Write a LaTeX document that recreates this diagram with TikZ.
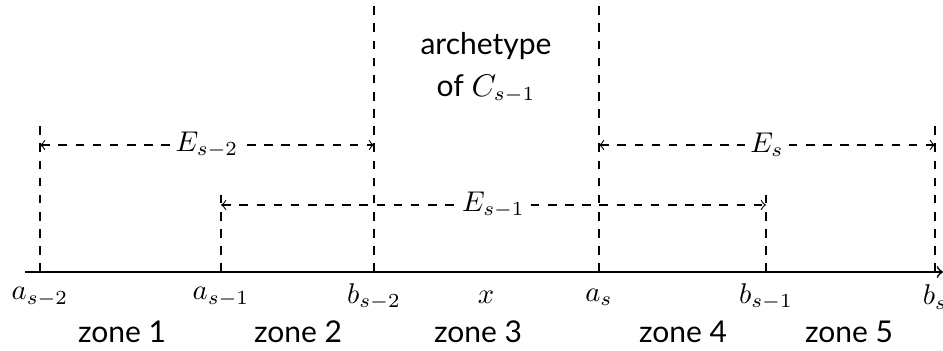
\documentclass[tikz,border=0pt]{standalone}
\usepackage{fontspec}
\setmainfont{Lato}
\tikzset{
  guide/.style={dashed,thin},
  span/.style={dashed,thin,<->},
  spanlabel/.style={fill=white,inner sep=2pt},
  zonelabel/.style={inner sep=0pt},
}
\begin{document}
\begin{tikzpicture}[x=.35pt,y=-.35pt]
\path[use as bounding box] (0,0) rectangle (943,351);
% axis
\coordinate (start) at (25,272);
\coordinate (end) at (943,272);
\draw[semithick,->] (start) -- (end);
% end points on the axis
\coordinate (as2) at (40,272);
\coordinate (as1) at (221,272);
\coordinate (bs2) at (374,272);
\coordinate (as) at (599,272);
\coordinate (bs1) at (766,272);
\coordinate (bs) at (935,272);
% tops of the guides
\coordinate (as2top) at (40,122);
\coordinate (as1top) at (221,187);
\coordinate (bs2top) at (374,0);
\coordinate (astop) at (599,0);
\coordinate (bs1top) at (766,187);
\coordinate (bstop) at (935,122);
\draw[guide] (as2) -- (as2top);
\draw[guide] (as1) -- (as1top);
\draw[guide] (bs2) -- (bs2top);
\draw[guide] (as) -- (astop);
\draw[guide] (bs1) -- (bs1top);
\draw[guide] (bs) -- (bstop);
% spans
\coordinate (e2l) at (40,145);
\coordinate (e2r) at (374,145);
\coordinate (e1l) at (221,205);
\coordinate (e1r) at (766,205);
\coordinate (e0l) at (599,145);
\coordinate (e0r) at (935,145);
\draw[span] (e2l) -- node[spanlabel] (E2) {$E_{s-2}$} (e2r);
\draw[span] (e1l) -- node[spanlabel] (E1) {$E_{s-1}$} (e1r);
\draw[span] (e0l) -- node[spanlabel] (E0) {$E_{s}$} (e0r);
% archetype
\node[align=center,font=\fontsize{10.5}{14.5}\selectfont] (arch) at (486,68) {archetype\\of $C_{s-1}$};
% points
\node (las2) at (40,297) {$a_{s-2}$};
\node (las1) at (221,297) {$a_{s-1}$};
\node (lbs2) at (374,297) {$b_{s-2}$};
\node (lx) at (486,297) {$x$};
\node (las) at (599,297) {$a_{s}$};
\node (lbs1) at (766,297) {$b_{s-1}$};
\node (lbs) at (935,297) {$b_{s}$};
% zones
\node[zonelabel,font=\fontsize{10.5}{12}\selectfont] (z1) at (122,332) {zone 1};
\node[zonelabel,font=\fontsize{10.5}{12}\selectfont] (z2) at (298,332) {zone 2};
\node[zonelabel,font=\fontsize{10.5}{12}\selectfont] (z3) at (478,332) {zone 3};
\node[zonelabel,font=\fontsize{10.5}{12}\selectfont] (z4) at (683,332) {zone 4};
\node[zonelabel,font=\fontsize{10.5}{12}\selectfont] (z5) at (849,332) {zone 5};
\end{tikzpicture}
\end{document}
